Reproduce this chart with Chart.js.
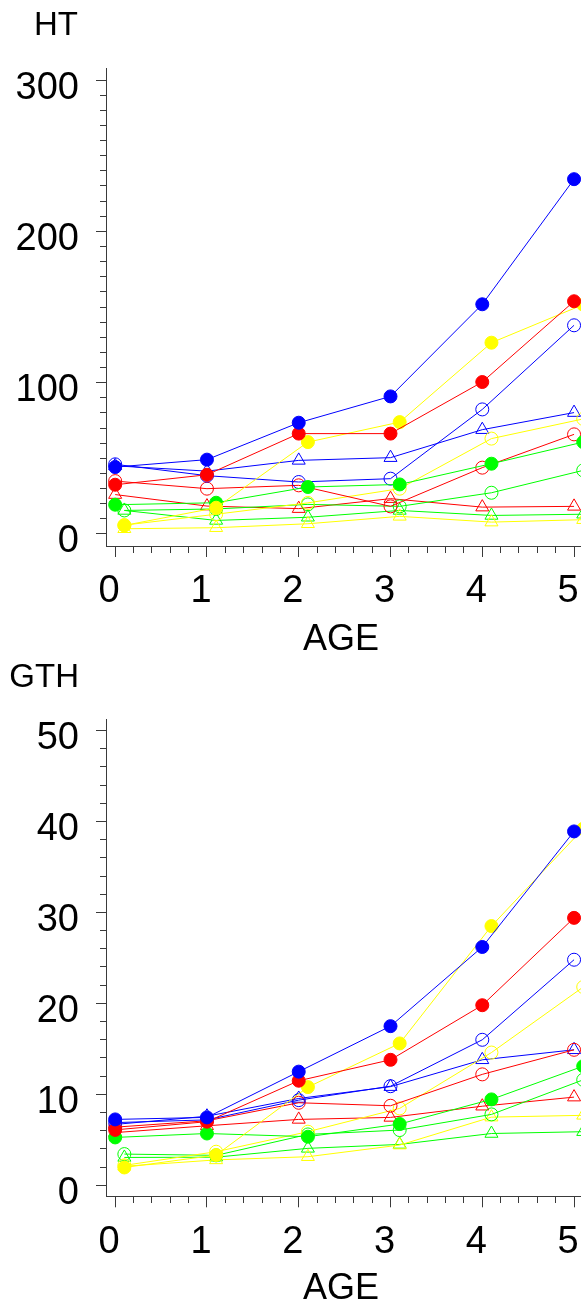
<!DOCTYPE html>
<html>
<head>
<meta charset="utf-8">
<title>HT and GTH by AGE</title>
<script src="https://cdn.jsdelivr.net/npm/chart.js@4"></script>
<style>
html, body { margin: 0; padding: 0; width: 581px; height: 1306px; overflow: hidden; background: #fff; }
body { position: relative; font-family: "Liberation Sans", Arial, sans-serif; color: #000; }
canvas { position: absolute; left: 0; }
.lbl { position: absolute; line-height: 1; white-space: nowrap; }
</style>
</head>
<body>
<canvas id="chartHT" width="640" height="650" style="top:0px"></canvas>
<canvas id="chartGTH" width="640" height="656" style="top:650px"></canvas>
<div class="lbl" style="left:0;width:78px;text-align:right;top:7px;font-size:33px">HT</div>
<div class="lbl" style="left:240px;width:202px;text-align:center;top:620px;font-size:36px">AGE</div>
<div class="lbl" style="left:0;width:79px;text-align:right;top:659px;font-size:33px">GTH</div>
<div class="lbl" style="left:240px;width:202px;text-align:center;top:1269px;font-size:36px">AGE</div>
<script>
// ages on the x axis (yellow and green groups are drawn a little to the right)
var age = [0, 1, 2, 3, 4, 5];
var ageShift = [0.1, 1.1, 2.1, 3.1, 4.1, 5.1];
var ageGreenHT = [0, 1.1, 2.1, 3.1, 4.1, 5.1];
var ageGreenGTH = [0, 1, 2.1, 3.1, 4.1, 5.1];

// HT values
var htBlueSolid = [44.2, 49.1, 73.5, 90.9, 151.8, 234.5];
var htBlueOpen = [46.0, 38.5, 34.3, 36.5, 82.3, 137.9];
var htBlueTri = [45.0, 41.5, 48.6, 50.4, 68.9, 80.2];
var htRedSolid = [32.5, 39.1, 66.3, 66.3, 100.4, 153.8];
var htRedOpen = [34.9, 29.9, 32.1, 18.2, 43.8, 65.8];
var htRedTri = [26.0, 18.4, 16.7, 23.3, 17.7, 18.2];
var htYellowSolid = [5.6, 17.3, 60.7, 73.9, 126.4, 151.6];
var htYellowOpen = [5.8, 13.0, 20.5, 29.9, 63.0, 76.0];
var htYellowTri = [3.4, 4.1, 6.7, 11.6, 7.8, 9.4];
var htGreenSolid = [19.3, 20.6, 31.0, 32.7, 46.4, 60.7];
var htGreenOpen = [15.5, 16.5, 19.5, 18.2, 27.2, 42.0];
var htGreenTri = [15.5, 8.9, 11.0, 15.5, 12.2, 13.0];

// GTH values
var gthBlueSolid = [7.25, 7.47, 12.5, 17.5, 26.2, 38.9];
var gthBlueOpen = [6.9, 7.2, 9.37, 10.9, 16.0, 24.8];
var gthBlueTri = [6.7, 7.6, 9.55, 10.85, 13.8, 14.9];
var gthRedSolid = [6.1, 7.0, 11.5, 13.8, 19.8, 29.4];
var gthRedOpen = [6.4, 7.1, 9.08, 8.75, 12.2, 14.9];
var gthRedTri = [5.8, 6.55, 7.25, 7.47, 8.7, 9.7];
var gthYellowSolid = [1.97, 3.33, 10.8, 15.6, 28.5, 39.2];
var gthYellowOpen = [2.2, 3.7, 5.9, 8.46, 14.6, 21.8];
var gthYellowTri = [2.1, 2.8, 3.15, 4.43, 7.5, 7.7];
var gthGreenSolid = [5.27, 5.7, 5.35, 6.74, 9.45, 13.1];
var gthGreenOpen = [3.44, 3.3, 5.6, 6.08, 7.8, 11.6];
var gthGreenTri = [3.07, 3.1, 4.07, 4.5, 5.7, 5.9];

// tick labels
var xTickLabels = ['0', '1', '2', '3', '4', '5'];
var htTickLabels = ['0', '100', '200', '300'];
var gthTickLabels = ['0', '10', '20', '30', '40', '50'];

var BLUE = '#0000ff';
var RED = '#ff0000';
var YELLOW = '#ffff00';
var GREEN = '#00ff00';
var AXIS = '#3a3a3a';
var FONT = '"Liberation Sans", Arial, sans-serif';

function isWhole(v, step) {
    return Math.abs(v / step - Math.round(v / step)) < 1e-6;
}

// one line series with its marker
function series(xs, ys, color, style, solid) {
    return {
        data: xs.map(function (x, i) { return { x: x, y: ys[i] }; }),
        borderColor: color,
        backgroundColor: solid ? color : 'rgba(0,0,0,0)',
        borderWidth: 1,
        pointStyle: style,
        pointRadius: style === 'triangle' ? 7.5 : 6.5,
        pointBorderWidth: 1,
        pointHoverRadius: 6.5,
        fill: false,
        tension: 0
    };
}

function makeChart(id, datasets, yMin, yMax, yStep, yMajor, yLabels, padTop, xAxisHeight) {
    var ctx = document.getElementById(id).getContext('2d');
    return new Chart(ctx, {
        type: 'line',
        data: { datasets: datasets },
        options: {
            responsive: false,
            animation: false,
            devicePixelRatio: 1,
            layout: { padding: { left: 0, top: padTop, right: 43, bottom: 0 } },
            plugins: { legend: { display: false }, tooltip: { enabled: false }, title: { display: false } },
            scales: {
                x: {
                    type: 'linear',
                    min: -0.1,
                    max: 5.25,
                    border: { color: AXIS, width: 1 },
                    grid: {
                        drawOnChartArea: false,
                        drawTicks: true,
                        tickLength: 11,
                        tickColor: AXIS,
                        tickWidth: 1,
                        tickBorderDash: function (c) {
                            return c.tick && isWhole(c.tick.value, 1) ? [] : [6, 20];
                        }
                    },
                    ticks: {
                        stepSize: 0.2,
                        includeBounds: false,
                        autoSkip: false,
                        maxRotation: 0,
                        minRotation: 0,
                        color: '#000',
                        padding: 12,
                        labelOffset: -6,
                        font: { family: FONT, size: 38 },
                        callback: function (v) {
                            return isWhole(v, 1) ? xTickLabels[Math.round(v)] : '';
                        }
                    },
                    afterFit: function (s) { s.height = xAxisHeight; }
                },
                y: {
                    type: 'linear',
                    min: yMin,
                    max: yMax,
                    border: { color: AXIS, width: 1 },
                    grid: {
                        drawOnChartArea: false,
                        drawTicks: true,
                        tickLength: 10,
                        tickColor: AXIS,
                        tickWidth: 1,
                        tickBorderDash: function (c) {
                            return c.tick && isWhole(c.tick.value, yMajor) ? [] : [0, 4, 6, 0];
                        }
                    },
                    ticks: {
                        stepSize: yStep,
                        includeBounds: false,
                        autoSkip: false,
                        color: '#000',
                        padding: 17,
                        labelOffset: 8,
                        font: { family: FONT, size: 38 },
                        callback: function (v) {
                            return isWhole(v, yMajor) ? yLabels[Math.round(v / yMajor)] : '';
                        }
                    },
                    afterFit: function (s) { s.width = 106; }
                }
            }
        }
    });
}

var htSets = [
    series(age, htBlueSolid, BLUE, 'circle', true),
    series(age, htRedSolid, RED, 'circle', true),
    series(ageShift, htYellowSolid, YELLOW, 'circle', true),
    series(ageGreenHT, htGreenSolid, GREEN, 'circle', true),
    series(age, htBlueOpen, BLUE, 'circle', false),
    series(age, htRedOpen, RED, 'circle', false),
    series(ageShift, htYellowOpen, YELLOW, 'circle', false),
    series(ageShift, htGreenOpen, GREEN, 'circle', false),
    series(age, htBlueTri, BLUE, 'triangle', false),
    series(age, htRedTri, RED, 'triangle', false),
    series(ageShift, htYellowTri, YELLOW, 'triangle', false),
    series(ageShift, htGreenTri, GREEN, 'triangle', false)
];

var gthSets = [
    series(age, gthBlueSolid, BLUE, 'circle', true),
    series(age, gthRedSolid, RED, 'circle', true),
    series(ageShift, gthYellowSolid, YELLOW, 'circle', true),
    series(ageGreenGTH, gthGreenSolid, GREEN, 'circle', true),
    series(age, gthBlueOpen, BLUE, 'circle', false),
    series(age, gthRedOpen, RED, 'circle', false),
    series(ageShift, gthYellowOpen, YELLOW, 'circle', false),
    series(ageShift, gthGreenOpen, GREEN, 'circle', false),
    series(age, gthBlueTri, BLUE, 'triangle', false),
    series(age, gthRedTri, RED, 'triangle', false),
    series(ageShift, gthYellowTri, YELLOW, 'triangle', false),
    series(ageShift, gthGreenTri, GREEN, 'triangle', false)
];

makeChart('chartHT', htSets, -8, 308, 10, 100, htTickLabels, 68, 104);
makeChart('chartGTH', gthSets, -1.2, 51.2, 2, 10, gthTickLabels, 69.5, 109.7);
</script>
</body>
</html>
